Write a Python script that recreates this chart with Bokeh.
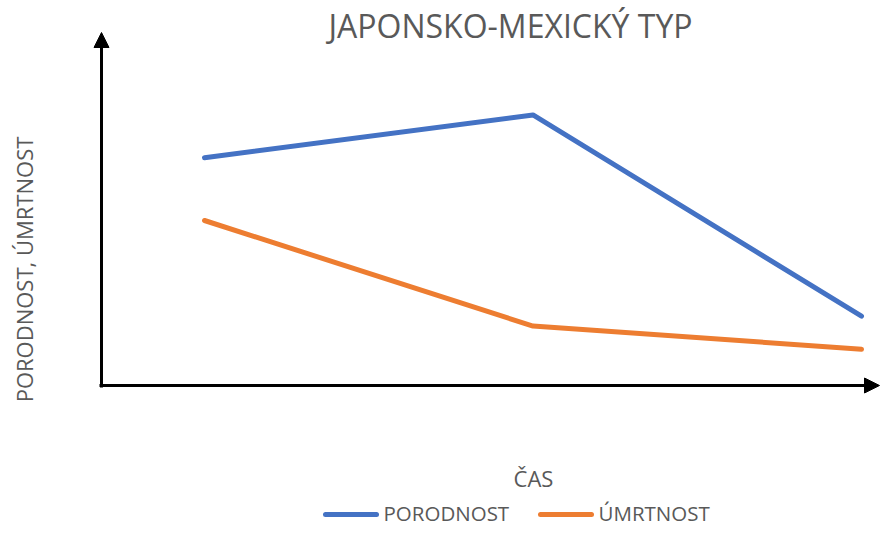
import math
from bokeh.plotting import figure
from bokeh.models import Range1d, Label, Arrow, NormalHead
from bokeh.embed import file_html
from bokeh.resources import INLINE

# ---- data ----
periods = ["1", "2", "3"]          # time points along ČAS
x_pos = [0, 1, 2]
porodnost = [69, 82, 21]
umrtnost = [50, 18, 11]
series_names = ["PORODNOST", "ÚMRTNOST"]
series_colors = ["#4472C4", "#ED7D31"]
title_text = "JAPONSKO-MEXICKÝ TYP"
x_label = "ČAS"
y_label = "PORODNOST, ÚMRTNOST"

# ---- layout ----
W, H = 880, 530
X0, XS = 204.0, 328.5   # canvas px of x=0, px per x unit
Y0, YS = 385.0, 3.3     # canvas px (from top) of y=0, px per y unit

def dx(px):
    return (px - X0) / XS

def dy(py):
    return (Y0 - py) / YS

GRAY = "#595959"
FONT = "Open Sans"

p = figure(width=W, height=H, output_backend="svg", toolbar_location=None,
           x_range=Range1d(dx(0), dx(W)), y_range=Range1d(dy(H), dy(0)),
           x_axis_type=None, y_axis_type=None, min_border=0, title=None,
           outline_line_color=None, tools="")
p.grid.visible = False

# axes drawn as arrows
p.add_layout(Arrow(end=NormalHead(size=15, fill_color="black", line_color="black", line_width=1),
                   x_start=dx(101), y_start=dy(387), x_end=dx(101), y_end=dy(32),
                   line_width=3, line_color="black"))
p.add_layout(Arrow(end=NormalHead(size=15, fill_color="black", line_color="black", line_width=1),
                   x_start=dx(99), y_start=0, x_end=dx(879), y_end=0,
                   line_width=3, line_color="black"))

for ys, col in zip([porodnost, umrtnost], series_colors):
    p.line(x_pos, ys, line_width=5, line_color=col, line_cap="round", line_join="round")

p.add_layout(Label(x=dx(510), y=dy(25), text=title_text, text_align="center",
                   text_baseline="alphabetic", text_font=FONT, text_font_size="32px",
                   text_color=GRAY))
p.add_layout(Label(x=dx(533), y=dy(477), text=x_label, text_align="center",
                   text_baseline="alphabetic", text_font=FONT, text_font_size="22px",
                   text_color=GRAY))
p.add_layout(Label(x=dx(23), y=dy(269), text=y_label, angle=math.pi / 2,
                   text_align="center", text_baseline="alphabetic", text_font=FONT,
                   text_font_size="22px", text_color=GRAY))

# legend (keys + labels) at the bottom
legend_key_x = [323, 538]     # canvas px, left end of each key
KEY_W, KEY_Y, TXT_Y = 55, 514, 512
for name, col, kx in zip(series_names, series_colors, legend_key_x):
    p.add_layout(Arrow(end=None, x_start=dx(kx + 2), y_start=dy(KEY_Y),
                       x_end=dx(kx + KEY_W - 2), y_end=dy(KEY_Y),
                       line_width=5, line_color=col, line_cap="round"))
    p.add_layout(Label(x=dx(kx + KEY_W + 5), y=dy(TXT_Y), text=name,
                       text_align="left", text_baseline="alphabetic", text_font=FONT,
                       text_font_size="20.5px", text_color=GRAY))

open("out.html", "w").write(file_html(p, INLINE))
